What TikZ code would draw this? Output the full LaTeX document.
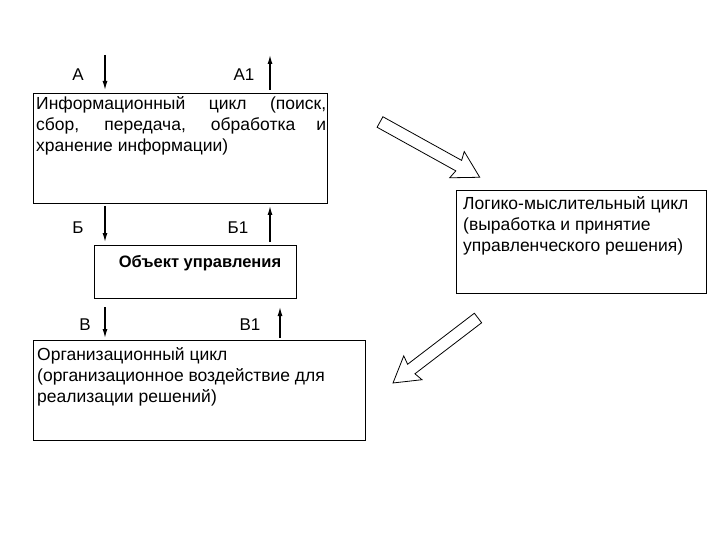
\documentclass[tikz,border=0pt]{standalone}
\usepackage{fontspec}
\setmainfont{Liberation Sans}
\usetikzlibrary{arrows.meta}
\begin{document}
\begin{tikzpicture}[x=1pt,y=-1pt,
  box/.style={draw,line width=0.8pt},
  txt/.style={font=\fontsize{17.5}{21}\selectfont,inner sep=0pt,align=left},
  flow/.style={-{Latex[length=9pt,width=5pt]},line width=1.2pt},
  lab/.style={font=\fontsize{17}{20}\selectfont,inner sep=0pt}]
\useasboundingbox (0,0) rectangle (720,540);
\draw[box] (33,93) rectangle (327,203);
\node[txt,anchor=north west,text width=290,align=justify] (info) at (36,96) {Информационный цикл (поиск, сбор, передача, обработка и хранение информации)};
\draw[box] (94,245) rectangle (296,298);
\node[txt,anchor=north,font=\bfseries\fontsize{16.5}{18}\selectfont] (obj) at (200,255) {Объект управления};
\draw[box] (33,340) rectangle (365,440);
\node[txt,anchor=north west] (org) at (37,347) {Организационный цикл\\(организационное воздействие для\\реализации решений)};
\draw[box] (456,190) rectangle (706,293);
\node[txt,anchor=north west] (log) at (463,196) {Логико-мыслительный цикл\\(выработка и принятие\\управленческого решения)};
\coordinate (a1) at (105,55); \coordinate (a2) at (105,90);
\coordinate (b1) at (270,90); \coordinate (b2) at (270,55);
\coordinate (c1) at (105,206); \coordinate (c2) at (105,242);
\coordinate (d1) at (270,242); \coordinate (d2) at (270,206);
\coordinate (e1) at (105,307); \coordinate (e2) at (105,338);
\coordinate (f1) at (280,338); \coordinate (f2) at (280,307);
\draw[flow] (a1)--(a2); \draw[flow] (b1)--(b2);
\draw[flow] (c1)--(c2); \draw[flow] (d1)--(d2);
\draw[flow] (e1)--(e2); \draw[flow] (f1)--(f2);
\node[lab] (la) at (78,75) {А};
\node[lab] (la1) at (244,75) {А1};
\node[lab] (lb) at (78,228) {Б};
\node[lab] (lb1) at (238,228) {Б1};
\node[lab] (lc) at (85,325) {В};
\node[lab] (lc1) at (250,325) {В1};
\begin{scope}[shift={(380,122)},rotate=-29]
\draw[line width=0.8pt] (0,-6)--(90,-6)--(88,-15)--(114,0)--(88,15)--(90,6)--(0,6)--cycle;
\end{scope}
\begin{scope}[shift={(478,318)},rotate=-142.6]
\draw[line width=0.8pt] (0,-6)--(84,-6)--(82,-15)--(107,0)--(82,15)--(84,6)--(0,6)--cycle;
\end{scope}
\end{tikzpicture}
\end{document}
